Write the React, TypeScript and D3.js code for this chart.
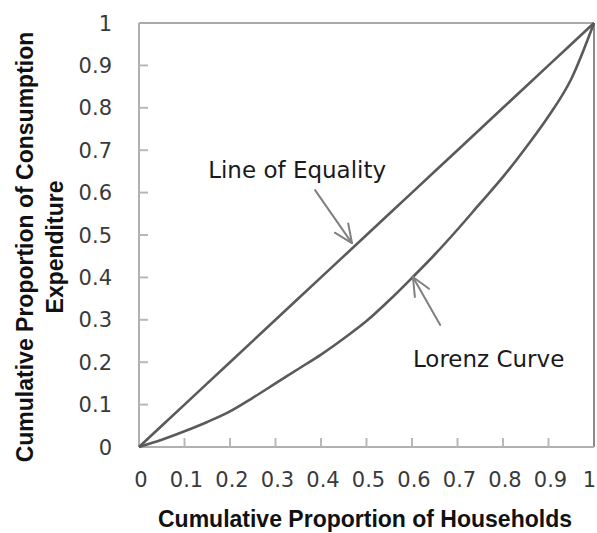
import React from "react";
import * as d3 from "d3";

const xTicks = [0, 0.1, 0.2, 0.3, 0.4, 0.5, 0.6, 0.7, 0.8, 0.9, 1];
const yTicks = [0, 0.1, 0.2, 0.3, 0.4, 0.5, 0.6, 0.7, 0.8, 0.9, 1];
const tickLabels = ["0", "0.1", "0.2", "0.3", "0.4", "0.5", "0.6", "0.7", "0.8", "0.9", "1"];

const equalityX = [0, 0.1, 0.2, 0.3, 0.4, 0.5, 0.6, 0.7, 0.8, 0.9, 1];
const equalityY = [0, 0.1, 0.2, 0.3, 0.4, 0.5, 0.6, 0.7, 0.8, 0.9, 1];

const lorenzX = [0, 0.05, 0.1, 0.15, 0.2, 0.25, 0.3, 0.35, 0.4, 0.45, 0.5, 0.55, 0.6, 0.65, 0.7, 0.75, 0.8, 0.85, 0.9, 0.95, 1];
const lorenzY = [0, 0.017, 0.037, 0.059, 0.084, 0.116, 0.15, 0.184, 0.218, 0.256, 0.297, 0.346, 0.399, 0.454, 0.513, 0.575, 0.637, 0.706, 0.78, 0.868, 1];

// annotations in data coordinates: [tailX, tailY, tipX, tipY]
const arrowEquality = [0.387, 0.606, 0.468, 0.481];
const arrowLorenz = [0.662, 0.288, 0.602, 0.401];
const labelEquality = { text: "Line of Equality", x: 0.152, y: 0.635 };
const labelLorenz = { text: "Lorenz Curve", x: 0.602, y: 0.188 };

const W = 597;
const H = 533;
const M = { left: 139, right: 594, top: 23, bottom: 447 };

export default function App() {
  const x = d3.scaleLinear().domain([0, 1]).range([M.left, M.right]);
  const y = d3.scaleLinear().domain([0, 1]).range([M.bottom, M.top]);
  const line = d3
    .line<[number, number]>()
    .x((d) => x(d[0]))
    .y((d) => y(d[1]))
    .curve(d3.curveMonotoneX);
  const eqPts: [number, number][] = equalityX.map((v, i) => [v, equalityY[i]]);
  const lzPts: [number, number][] = lorenzX.map((v, i) => [v, lorenzY[i]]);

  const arrow = (a: number[], key: string) => {
    const x1 = x(a[0]), y1 = y(a[1]), x2 = x(a[2]), y2 = y(a[3]);
    const ang = Math.atan2(y2 - y1, x2 - x1);
    const hl = 20, spread = 0.42;
    const h1 = [x2 - hl * Math.cos(ang - spread), y2 - hl * Math.sin(ang - spread)];
    const h2 = [x2 - hl * Math.cos(ang + spread), y2 - hl * Math.sin(ang + spread)];
    return (
      <g key={key} stroke="#808080" strokeWidth={2} fill="none" strokeLinecap="round">
        <line x1={x1} y1={y1} x2={x2} y2={y2} />
        <line x1={x2} y1={y2} x2={h1[0]} y2={h1[1]} />
        <line x1={x2} y1={y2} x2={h2[0]} y2={h2[1]} />
      </g>
    );
  };

  return (
    <div style={{ position: "fixed", left: 0, top: 0 }}>
      <svg width={W} height={H} style={{ display: "block", background: "#fff" }}>
        {/* frame */}
        <line x1={M.left} y1={M.top} x2={M.right} y2={M.top} stroke="#aaaaaa" strokeWidth={2} />
        <line x1={M.right} y1={M.top} x2={M.right} y2={M.bottom} stroke="#8a8a8a" strokeWidth={2} />
        <line x1={M.left} y1={M.top} x2={M.left} y2={M.bottom} stroke="#b0b0b0" strokeWidth={2} />
        <line x1={M.left} y1={M.bottom} x2={M.right} y2={M.bottom} stroke="#b0b0b0" strokeWidth={2} />
        {/* y ticks */}
        {yTicks.map((t, i) => (
          <g key={"y" + i}>
            {t > 0 && t < 1 && (
              <line x1={M.left} x2={M.left + 9} y1={y(t)} y2={y(t)} stroke="#b8b8b8" strokeWidth={2} />
            )}
            <text
              x={112}
              y={y(t)}
              dy="0.36em"
              textAnchor="end"
              fontFamily="DejaVu Sans"
              fontSize={21}
              fill="#3a3a3a"
            >
              {tickLabels[i]}
            </text>
          </g>
        ))}
        {/* x ticks */}
        {xTicks.map((t, i) => {
          const last = i === xTicks.length - 1;
          return (
            <g key={"x" + i}>
              {t > 0 && t < 1 && (
                <line x1={x(t)} x2={x(t)} y1={M.bottom} y2={M.bottom - 9} stroke="#b8b8b8" strokeWidth={2} />
              )}
              <text
                x={last ? W - 1 : x(t) + 2}
                y={487}
                textAnchor={last ? "end" : "middle"}
                fontFamily="DejaVu Sans"
                fontSize={21}
                fill="#3a3a3a"
              >
                {tickLabels[i]}
              </text>
            </g>
          );
        })}
        {/* series */}
        <path d={line(eqPts) || ""} fill="none" stroke="#5a5a5a" strokeWidth={2.6} />
        <path d={line(lzPts) || ""} fill="none" stroke="#5a5a5a" strokeWidth={2.6} />
        {/* annotations */}
        {arrow(arrowEquality, "a1")}
        {arrow(arrowLorenz, "a2")}
        <text x={x(labelEquality.x)} y={y(labelEquality.y)} fontFamily="DejaVu Sans" fontSize={23} fill="#1a1a1a">
          {labelEquality.text}
        </text>
        <text x={x(labelLorenz.x)} y={y(labelLorenz.y)} fontFamily="DejaVu Sans" fontSize={23} fill="#1a1a1a">
          {labelLorenz.text}
        </text>
        {/* axis titles */}
        <text
          x={365}
          y={527}
          textAnchor="middle"
          fontFamily="Liberation Sans"
          fontWeight="bold"
          fontSize={23}
          fill="#111"
        >
          Cumulative Proportion of Households
        </text>
        <g transform="translate(33,247) rotate(-90)">
          <text x={0} y={0} textAnchor="middle" fontFamily="Liberation Sans" fontWeight="bold" fontSize={23} fill="#111">
            Cumulative Proportion of Consumption
          </text>
          <text x={0} y={30} textAnchor="middle" fontFamily="Liberation Sans" fontWeight="bold" fontSize={23} fill="#111">
            Expenditure
          </text>
        </g>
      </svg>
    </div>
  );
}
